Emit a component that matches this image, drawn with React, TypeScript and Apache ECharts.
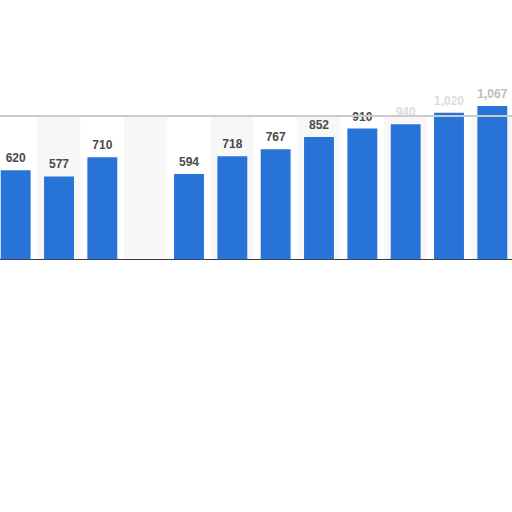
import { useEffect, useRef } from "react";
import * as echarts from "echarts";

// categories are not visible in the crop, keep placeholders
const categories = ["c1", "c2", "c3", "c4", "c5", "c6", "c7", "c8", "c9", "c10", "c11", "c12"];
const values: (number | null)[] = [620, 577, 710, null, 594, 718, 767, 852, 910, 940, 1020, 1067];
const labels = ["620", "577", "710", "", "594", "718", "767", "852", "910", "940", "1,020", "1,067"];
const yTicks = [0, 500, 1000];

export default function App() {
  const chartRef = useRef<HTMLDivElement | null>(null);

  useEffect(() => {
    const el = chartRef.current;
    if (!el) return;
    const chart = echarts.init(el, null, { renderer: "svg" });

    chart.setOption({
      animation: false,
      backgroundColor: "#ffffff",
      grid: { left: 0, right: 0, top: 115.7, bottom: 252.7, containLabel: false },
      xAxis: {
        type: "category",
        data: categories,
        axisLine: { lineStyle: { color: "#3a3a3a", width: 1 } },
        axisTick: { show: false },
        axisLabel: { show: false },
        splitArea: { show: true, areaStyle: { color: ["#ffffff", "#f7f7f7"] } }
      },
      yAxis: {
        type: "value",
        min: yTicks[0],
        max: yTicks[yTicks.length - 1],
        interval: yTicks[1] - yTicks[0],
        axisLabel: { show: false },
        axisLine: { show: false },
        axisTick: { show: false },
        splitLine: { lineStyle: { color: "#d4d4d4", type: "dotted", width: 1 } }
      },
      series: [
        {
          type: "bar",
          // the last labels sit under the blurred watermark area in the reference
          data: values.map((v, i) =>
            i >= 9 ? { value: v, label: { color: i === 11 ? "#bdbdbd" : "#dcdcdc" } } : v
          ),
          barWidth: "69%",
          clip: false,
          itemStyle: { color: "#2873d8" },
          label: {
            show: true,
            position: "top",
            distance: 6,
            fontFamily: "Liberation Sans, Arial, sans-serif",
            fontWeight: "bold",
            fontSize: 12,
            color: "#4a4a4a",
            formatter: (p: { dataIndex: number }) => labels[p.dataIndex]
          },
          markLine: {
            silent: true,
            symbol: "none",
            label: { show: false },
            lineStyle: { color: "#cbcbcb", type: "solid", width: 2 },
            data: [{ yAxis: yTicks[yTicks.length - 1] }]
          }
        }
      ]
    });

    return () => chart.dispose();
  }, []);

  // shifted left so the first bar is cut by the page edge like in the reference
  return (
    <div
      ref={chartRef}
      style={{ position: "absolute", left: -6, top: 0, width: 520, height: 512 }}
    />
  );
}
